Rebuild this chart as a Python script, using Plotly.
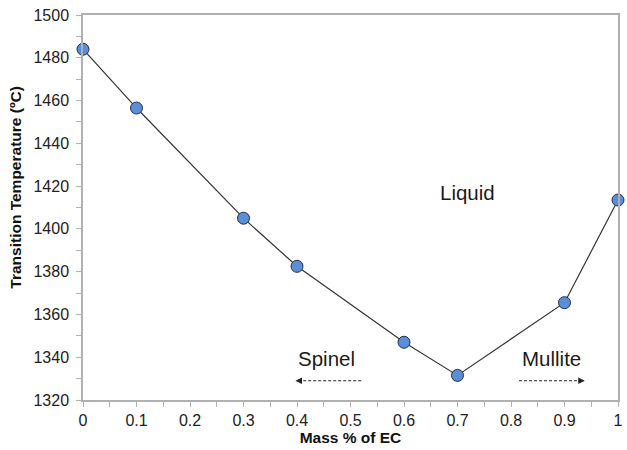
import plotly.graph_objects as go

mass_ec = [0, 0.1, 0.3, 0.4, 0.6, 0.7, 0.9, 1.0]
temperature = [1484, 1456.5, 1405, 1382.5, 1347, 1331.5, 1365.5, 1413.5]

x_ticks = [0, 0.1, 0.2, 0.3, 0.4, 0.5, 0.6, 0.7, 0.8, 0.9, 1]
x_tick_labels = ["0", "0.1", "0.2", "0.3", "0.4", "0.5", "0.6", "0.7", "0.8", "0.9", "1"]
y_ticks = [1320, 1340, 1360, 1380, 1400, 1420, 1440, 1460, 1480, 1500]

FONT = "Liberation Sans, Arial, Helvetica, sans-serif"
AXIS_GRAY = "#b0b0b0"

fig = go.Figure()
fig.add_trace(go.Scatter(
    x=mass_ec, y=temperature, mode="lines+markers",
    line=dict(color="#333333", width=1.2),
    marker=dict(size=12, color="#5a8fd8", line=dict(color="#1f2f4a", width=1)),
    showlegend=False, cliponaxis=False,
))

# dashed arrows
for x0, x1 in [(0.52, 0.397), (0.815, 0.938)]:
    fig.add_shape(type="line", x0=x0, x1=x1 - (0.012 if x1 > x0 else -0.012), y0=1329, y1=1329,
                  xref="x", yref="y", line=dict(color="#222222", width=1, dash="3px,2px"))
    fig.add_annotation(x=x1, y=1329, ax=(-8 if x1 > x0 else 8), ay=0, axref="pixel", ayref="pixel",
                       text="", showarrow=True, arrowhead=2, arrowsize=1.1, arrowwidth=1.2,
                       arrowcolor="#222222")

for text, x, y in [("Liquid", 0.719, 1417), ("Spinel", 0.455, 1339.5), ("Mullite", 0.876, 1339.5)]:
    fig.add_annotation(x=x, y=y, text=text, showarrow=False,
                       font=dict(family=FONT, size=20.5, color="#1a1a1a"))

# y-axis title (placed slightly above centre, as in the reference)
fig.add_annotation(xref="paper", yref="paper", x=-0.126, y=0.553, xanchor="center", yanchor="middle",
                   text="<b>Transition Temperature (ºC)</b>", textangle=-90, showarrow=False,
                   font=dict(family=FONT, size=15.5, color="#111111"))

fig.update_xaxes(
    range=[0, 1], tickvals=x_ticks, ticktext=x_tick_labels,
    showline=True, linecolor=AXIS_GRAY, linewidth=1.5, mirror=True,
    ticks="outside", ticklen=5, tickcolor=AXIS_GRAY, tickwidth=1,
    minor=dict(dtick=0.05, ticks="outside", ticklen=5, tickcolor=AXIS_GRAY, tickwidth=1),
    showgrid=False, zeroline=False,
    tickfont=dict(family=FONT, size=16, color="#222222"),
    title=dict(text="<b>Mass % of EC</b>", font=dict(family=FONT, size=15.5, color="#111111"), standoff=2),
)
fig.update_yaxes(
    range=[1320, 1500], tickvals=y_ticks,
    showline=True, linecolor=AXIS_GRAY, linewidth=1.5, mirror=True,
    ticks="outside", ticklen=5, tickcolor=AXIS_GRAY, tickwidth=1,
    minor=dict(dtick=10, ticks="outside", ticklen=5, tickcolor=AXIS_GRAY, tickwidth=1),
    showgrid=False, zeroline=False,
    tickfont=dict(family=FONT, size=16, color="#222222"),
    ticklabelstandoff=4,
)

fig.update_layout(
    width=627, height=450,
    margin=dict(l=83, r=4, t=15, b=50),
    plot_bgcolor="white", paper_bgcolor="white",
)

fig.write_html("out.html")
